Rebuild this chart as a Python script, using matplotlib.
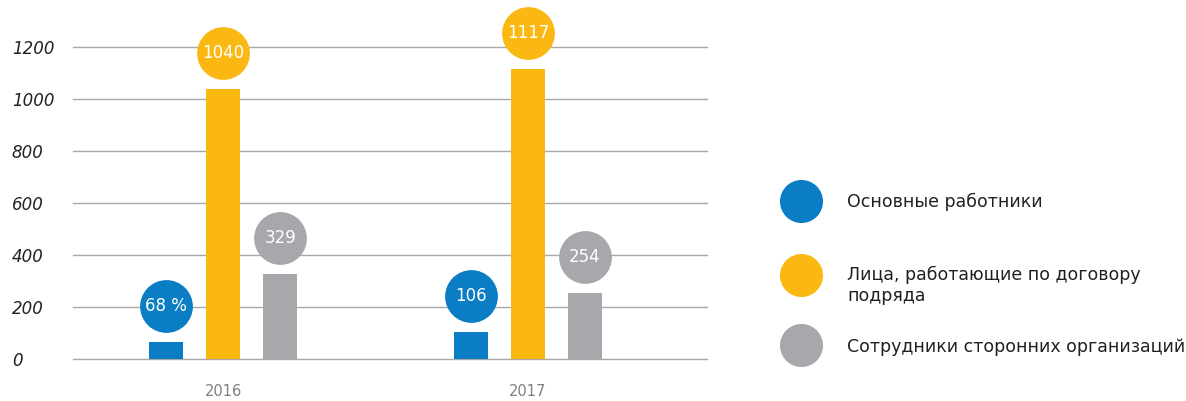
import matplotlib.pyplot as plt
import matplotlib.transforms as mtransforms
import numpy as np

years = ['2016', '2017']
series_names = ['Основные работники',
                'Лица, работающие по договору\nподряда',
                'Сотрудники сторонних организаций']
values = [[68, 1040, 329],
          [106, 1117, 254]]
labels = [['68 %', '1040', '329'],
          ['106', '1117', '254']]
colors = ['#0a7dc5', '#fbb813', '#a7a8ab']
yticks = [0, 200, 400, 600, 800, 1000, 1200]

fig = plt.figure(figsize=(11.86, 4.01), dpi=100)
ax = fig.add_axes([73 / 1186, 1 - 359.3 / 401, (707 - 73) / 1186, (359.3 - 21.3) / 401])

# label circles sit a fixed distance above each bar
above = mtransforms.offset_copy(ax.transData, fig=fig, y=36, units='dots')

width = 0.1115
step = 0.187
for g in range(len(years)):
    for i in range(3):
        x = g + (i - 1) * step
        ax.bar(x, values[g][i], width=width, color=colors[i], zorder=2)
        ax.plot(x, values[g][i], 'o', ms=38, color=colors[i], mec='none',
                transform=above, clip_on=False, zorder=3)
        ax.text(x, values[g][i], labels[g][i], transform=above, color='white',
                fontsize=12, ha='center', va='center', zorder=4, clip_on=False)

ax.set_xlim(-0.492, 1.587)
ax.set_ylim(0, 1300)
ax.set_yticks(yticks)
ax.set_yticklabels([str(t) for t in yticks], ha='left', fontstyle='italic',
                   fontsize=12, color='#222222')
ax.tick_params(axis='y', length=0, pad=44)
ax.set_xticks([0, 1])
ax.set_xticklabels(years, fontsize=10.5, color='#808080')
ax.tick_params(axis='x', length=0, pad=18)
ax.grid(axis='y', color='#a8a8a8', lw=1, zorder=0)
for gl in ax.get_ygridlines():
    gl.set_clip_on(False)
for s in ax.spines.values():
    s.set_visible(False)

# legend drawn in figure pixel space
lg = fig.add_axes([0, 0, 1, 1])
lg.set_xlim(0, 1186)
lg.set_ylim(401, 0)
lg.axis('off')
leg_y = [200.7, 275.3, 344.7]
text_y = [201.5, 285, 346.5]
for i in range(3):
    lg.plot(800.7, leg_y[i], 'o', ms=31, color=colors[i], mec='none')
    lg.text(847, text_y[i], series_names[i], fontsize=12.5, color='#231f20',
            ha='left', va='center', linespacing=1.2)

fig.savefig('out.png', dpi=100)
